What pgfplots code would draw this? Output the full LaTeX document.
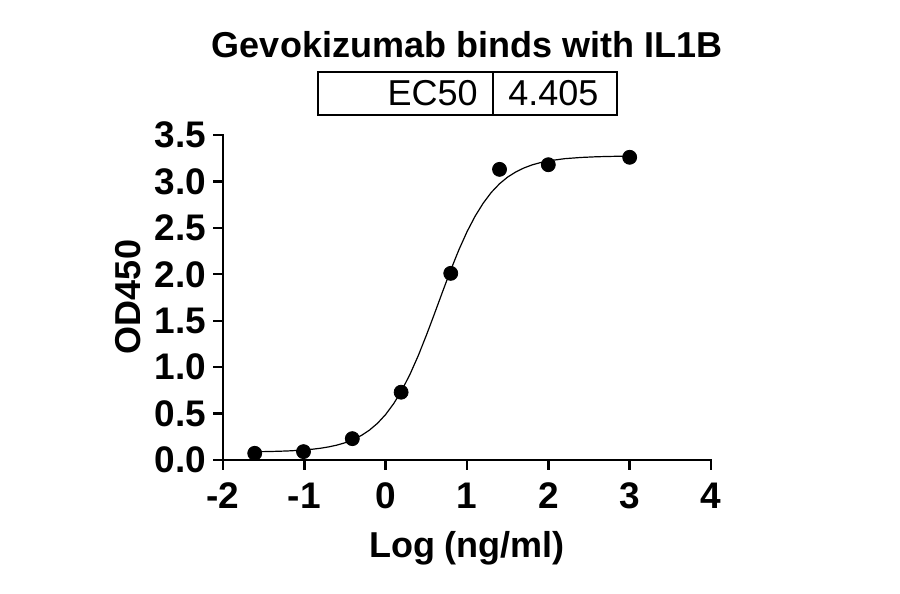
\documentclass[border=0pt]{standalone}
\usepackage{fontspec}
\setmainfont{Liberation Sans}
\usepackage{pgfplots}
\pgfplotsset{compat=1.18}
\begin{document}
\begin{tikzpicture}[x=1pt,y=1pt]
\useasboundingbox (0,0) rectangle (450,297);
\begin{axis}[
  at={(111.5pt,67pt)}, anchor=south west,
  scale only axis, width=244pt, height=162.5pt,
  xmin=-2, xmax=4, ymin=0, ymax=3.5,
  axis x line*=bottom, axis y line*=left,
  xtick={-2,-1,0,1,2,3,4}, ytick={0,0.5,1,1.5,2,2.5,3,3.5},
  tick align=outside, major tick length=5pt,
  axis line style={line width=1.2pt, line cap=rect},
  tick style={line width=1.2pt, black},
  tick label style={font=\fontsize{18.5}{18.5}\selectfont\bfseries},
  /pgf/number format/assume math mode=true,
  yticklabel style={/pgf/number format/fixed, /pgf/number format/fixed zerofill, /pgf/number format/precision=1},
  xticklabel style={yshift=-3pt},
  clip=false,
]
\addplot[black, line width=0.6pt] coordinates {
(-1.6,0.0889) (-1.5,0.0902) (-1.4,0.0920) (-1.3,0.0945) (-1.2,0.0977) (-1.1,0.1022)
(-1.0,0.1081) (-0.9,0.1161) (-0.8,0.1268) (-0.7,0.1412) (-0.6,0.1602) (-0.5,0.1856)
(-0.4,0.2193) (-0.3,0.2635) (-0.2,0.3213) (-0.1,0.3956) (0.0,0.4903) (0.1,0.6088)
(0.2,0.753) (0.3,0.9245) (0.4,1.1224) (0.5,1.342) (0.6,1.575) (0.7,1.813)
(0.8,2.046) (0.9,2.263) (1.0,2.458) (1.1,2.626) (1.2,2.767) (1.3,2.883)
(1.4,2.975) (1.5,3.047) (1.6,3.102) (1.7,3.145) (1.8,3.178) (1.9,3.202)
(2.0,3.221) (2.2,3.245) (2.4,3.258) (2.6,3.266) (2.8,3.270) (3.0,3.272)
};
\addplot[only marks, mark=*, mark size=3.5pt, black] coordinates {
(-1.61,0.072) (-1.01,0.09) (-0.41,0.23) (0.19,0.73) (0.80,2.01) (1.40,3.13) (2.0,3.18) (3.0,3.26)
};
\end{axis}
\node[font=\fontsize{18}{18}\selectfont\bfseries] at (233.5,274.5) {Gevokizumab binds with IL1B};
\draw[line width=1pt] (159,239.5) rectangle (308.5,261);
\draw[line width=1pt] (246.5,239.5) -- (246.5,261);
\node[anchor=east, font=\fontsize{18}{18}\selectfont, inner sep=0pt] at (239,250.25) {EC50};
\node[anchor=west, font=\fontsize{18}{18}\selectfont, inner sep=0pt] at (254,250.25) {4.405};
\node[font=\fontsize{18}{18}\selectfont\bfseries] at (233.5,23) {Log (ng/ml)};
\node[font=\fontsize{18}{18}\selectfont\bfseries, rotate=90] at (64,148.5) {OD450};
\end{tikzpicture}
\end{document}
